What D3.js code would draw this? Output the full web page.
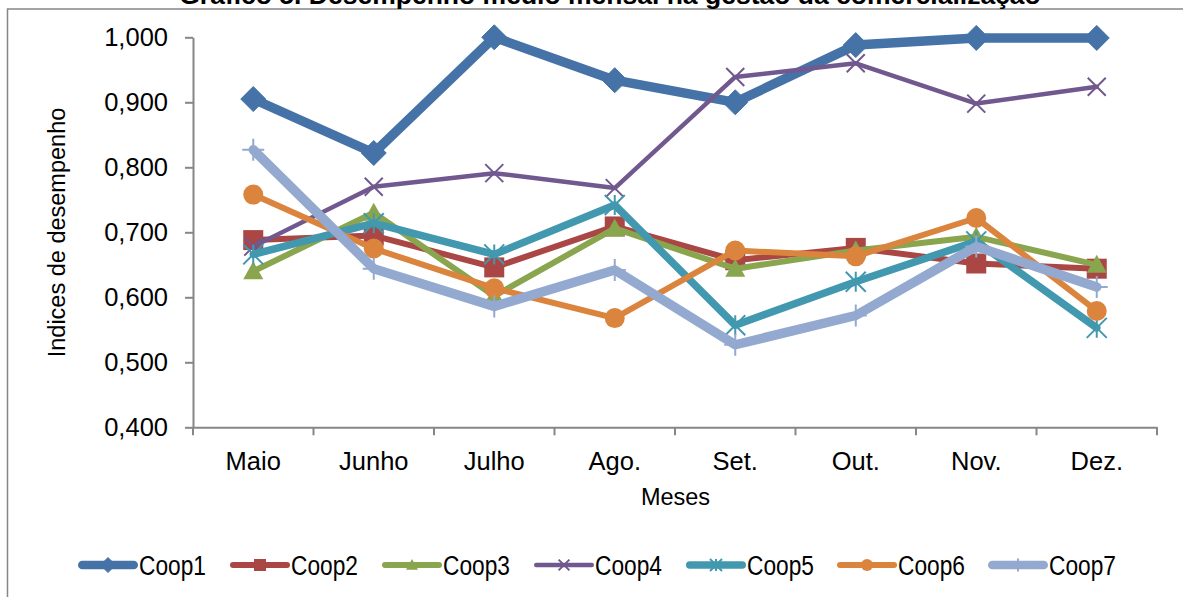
<!DOCTYPE html>
<html>
<head>
<meta charset="utf-8">
<script src="https://cdn.jsdelivr.net/npm/d3@7"></script>
<style>
  html, body { margin: 0; padding: 0; background: #fff; }
  svg { display: block; font-family: "Liberation Sans", Arial, sans-serif; }
</style>
</head>
<body>
<svg id="chart" width="1183" height="597"></svg>
<script>
const months = ["Maio", "Junho", "Julho", "Ago.", "Set.", "Out.", "Nov.", "Dez."];
const yTicks = [0.4, 0.5, 0.6, 0.7, 0.8, 0.9, 1.0];
const seriesNames = ["Coop1", "Coop2", "Coop3", "Coop4", "Coop5", "Coop6", "Coop7"];
const coop1 = [0.905, 0.822, 1.000, 0.934, 0.900, 0.988, 0.999, 0.999];
const coop2 = [0.688, 0.695, 0.646, 0.709, 0.657, 0.676, 0.652, 0.644];
const coop3 = [0.640, 0.730, 0.602, 0.706, 0.644, 0.672, 0.693, 0.650];
const coop4 = [0.678, 0.770, 0.791, 0.768, 0.939, 0.960, 0.898, 0.924];
const coop5 = [0.666, 0.714, 0.666, 0.742, 0.557, 0.624, 0.686, 0.553];
const coop6 = [0.758, 0.675, 0.614, 0.568, 0.672, 0.663, 0.722, 0.579];
const coop7 = [0.827, 0.644, 0.586, 0.642, 0.527, 0.572, 0.678, 0.616];
const seriesValues = [coop1, coop2, coop3, coop4, coop5, coop6, coop7];

const colors = ["#4572A7", "#AA4643", "#89A54E", "#71588F", "#4198AF", "#DB843D", "#93A9CF"];
const lineWidths = [9.5, 6, 6, 4.5, 7.5, 6, 9.5];
const markerTypes = ["diamond", "square", "triangle", "x", "asterisk", "circle", "plus"];
const markerSizes = [25, 20, 20, 18, 20, 20, 22];

const svg = d3.select("#chart");
const axisColor = "#868686";

// outer border
svg.append("rect").attr("x", 7.5).attr("y", 9).attr("width", 1300).attr("height", 700)
  .attr("fill", "none").attr("stroke", axisColor).attr("stroke-width", 1.5);

// title (partially cut off at the top, as in the reference)
svg.append("text").attr("x", 610).attr("y", 4).attr("text-anchor", "middle")
  .attr("font-weight", "bold").attr("font-size", 26.5).attr("fill", "#000")
  .text("Gráfico 5. Desempenho médio mensal na gestão da comercialização");

const x = d3.scaleBand().domain(months).range([193, 1157]).paddingInner(0).paddingOuter(0);
const y = d3.scaleLinear().domain([0.4, 1.0]).range([427.3, 37.3]);
const cx = m => x(m) + x.bandwidth() / 2;

// Y axis
const yAxis = d3.axisLeft(y).tickValues(yTicks).tickSize(8).tickPadding(17).tickSizeOuter(0)
  .tickFormat(d => d3.format(".3f")(d).replace(".", ","));
const gy = svg.append("g").attr("transform", "translate(193,0)").call(yAxis);
gy.select(".domain").attr("stroke", axisColor).attr("stroke-width", 2);
gy.selectAll(".tick line").attr("stroke", axisColor).attr("stroke-width", 2);
gy.selectAll(".tick text").attr("font-size", 25.5).attr("fill", "#000").attr("font-family", "Liberation Sans, Arial, sans-serif");

// X axis
const xAxis = d3.axisBottom(x).tickSize(0).tickSizeOuter(0);
const gx = svg.append("g").attr("transform", "translate(0,427.3)").call(xAxis);
gx.select(".domain").attr("stroke", axisColor).attr("stroke-width", 2);
gx.selectAll(".tick text").attr("font-size", 25.5).attr("fill", "#000")
  .attr("y", 42.7).attr("dy", 0).attr("font-family", "Liberation Sans, Arial, sans-serif");
const boundaries = months.map(m => x(m)).concat([x.range()[1]]);
gx.selectAll(".bnd").data(boundaries).enter().append("line")
  .attr("x1", d => d).attr("x2", d => d).attr("y1", 0).attr("y2", 8)
  .attr("stroke", axisColor).attr("stroke-width", 2);

// axis titles
svg.append("text").attr("x", 675.5).attr("y", 505).attr("text-anchor", "middle")
  .attr("font-size", 23.5).attr("fill", "#000").text("Meses");
svg.append("text").attr("transform", "translate(65,232.5) rotate(-90)").attr("text-anchor", "middle")
  .attr("font-size", 23.5).attr("fill", "#000").text("Indices de desempenho");

function drawMarker(g, type, px, py, size, color) {
  const h = size / 2;
  if (type === "diamond") {
    g.append("path").attr("d", `M${px},${py - h}L${px + h},${py}L${px},${py + h}L${px - h},${py}Z`)
      .attr("fill", color).attr("stroke", color).attr("stroke-width", 1).attr("stroke-linejoin", "round");
  } else if (type === "square") {
    g.append("rect").attr("x", px - h).attr("y", py - h).attr("width", size).attr("height", size)
      .attr("fill", color);
  } else if (type === "triangle") {
    g.append("path").attr("d", `M${px},${py - h}L${px + h},${py + h * 0.8}L${px - h},${py + h * 0.8}Z`)
      .attr("fill", color);
  } else if (type === "circle") {
    g.append("circle").attr("cx", px).attr("cy", py).attr("r", h).attr("fill", color);
  } else if (type === "x") {
    g.append("path").attr("d", `M${px - h},${py - h}L${px + h},${py + h}M${px - h},${py + h}L${px + h},${py - h}`)
      .attr("stroke", color).attr("stroke-width", 2).attr("fill", "none");
  } else if (type === "asterisk") {
    g.append("path").attr("d", `M${px - h},${py - h}L${px + h},${py + h}M${px - h},${py + h}L${px + h},${py - h}M${px},${py - h}L${px},${py + h}`)
      .attr("stroke", color).attr("stroke-width", 2).attr("fill", "none");
  } else if (type === "plus") {
    g.append("path").attr("d", `M${px - h},${py}L${px + h},${py}M${px},${py - h}L${px},${py + h}`)
      .attr("stroke", color).attr("stroke-width", 2).attr("fill", "none");
  }
}

const line = d3.line().x((d, i) => cx(months[i])).y(d => y(d));

seriesValues.forEach((vals, si) => {
  const g = svg.append("g");
  g.append("path").attr("d", line(vals)).attr("fill", "none")
    .attr("stroke", colors[si]).attr("stroke-width", lineWidths[si])
    .attr("stroke-linejoin", "round").attr("stroke-linecap", "round");
  vals.forEach((v, i) => drawMarker(g, markerTypes[si], cx(months[i]), y(v), markerSizes[si], colors[si]));
});

// legend
const legendStarts = [78, 230, 382, 534, 686, 837, 988];
const ly = 565;
seriesNames.forEach((name, si) => {
  const sx = legendStarts[si];
  const g = svg.append("g");
  const lw = Math.min(lineWidths[si], 8.5);
  g.append("line").attr("x1", sx + lw / 2).attr("x2", sx + 60 - lw / 2).attr("y1", ly).attr("y2", ly)
    .attr("stroke", colors[si]).attr("stroke-width", lw).attr("stroke-linecap", "round");
  drawMarker(g, markerTypes[si], sx + 30, ly, markerSizes[si] * 0.6, colors[si]);
  g.append("text").attr("x", sx + 61).attr("y", ly).attr("dy", "0.36em")
    .attr("font-size", 27).attr("fill", "#000")
    .attr("textLength", 67).attr("lengthAdjust", "spacingAndGlyphs").text(name);
});
</script>
</body>
</html>
